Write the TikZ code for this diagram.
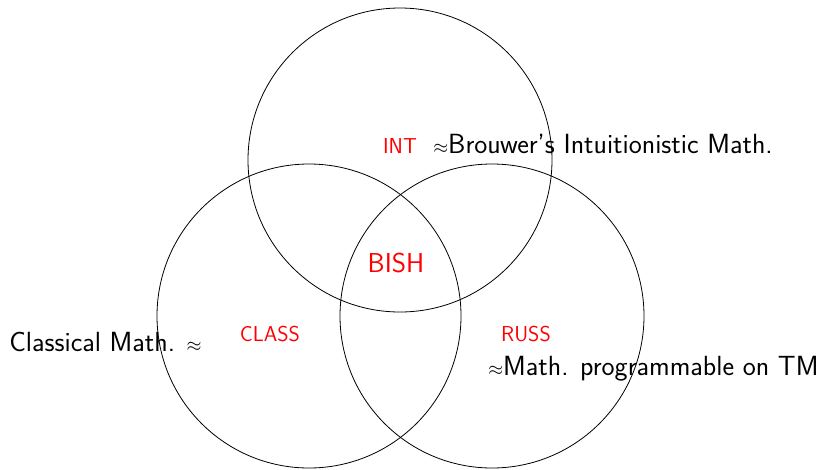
\documentclass[tikz,border=0pt]{standalone}
\newcommand{\apx}{{\fontsize{15}{17}\selectfont$\approx$}}
\begin{document}
\begin{tikzpicture}[x=0.75pt,y=-0.75pt,
  ring/.style={draw=black,line width=0.6pt},
  redlab/.style={text=red,font=\sffamily\fontsize{16.2}{18}\selectfont,inner sep=0pt},
  biglab/.style={text=red,font=\sffamily\fontsize{20.5}{23}\selectfont,inner sep=0pt},
  desc/.style={text=black,font=\sffamily\fontsize{20.8}{24}\selectfont,inner sep=0pt}]
\useasboundingbox (0,0) rectangle (822,469);
\coordinate (ci) at (400,160);
\coordinate (cc) at (309,316);
\coordinate (cr) at (492,316);
\draw[ring] (ci) circle[radius=114pt];
\draw[ring] (cc) circle[radius=114pt];
\draw[ring] (cr) circle[radius=114pt];
\node[redlab,anchor=base] (int) at (400,153) {INT};
\node[desc,anchor=base west] (intd) at (433,153) {\apx Brouwer's Intuitionistic Math.};
\node[biglab,anchor=base] (bish) at (396,272) {BISH};
\node[redlab,anchor=base] (class) at (270,341) {CLASS};
\node[redlab,anchor=base] (russ) at (526,341) {RUSS};
\node[desc,anchor=base west] (classd) at (9,351) {Classical Math. \apx};
\node[desc,anchor=base west] (russd) at (488,375) {\apx Math. programmable on TM};
\end{tikzpicture}
\end{document}
